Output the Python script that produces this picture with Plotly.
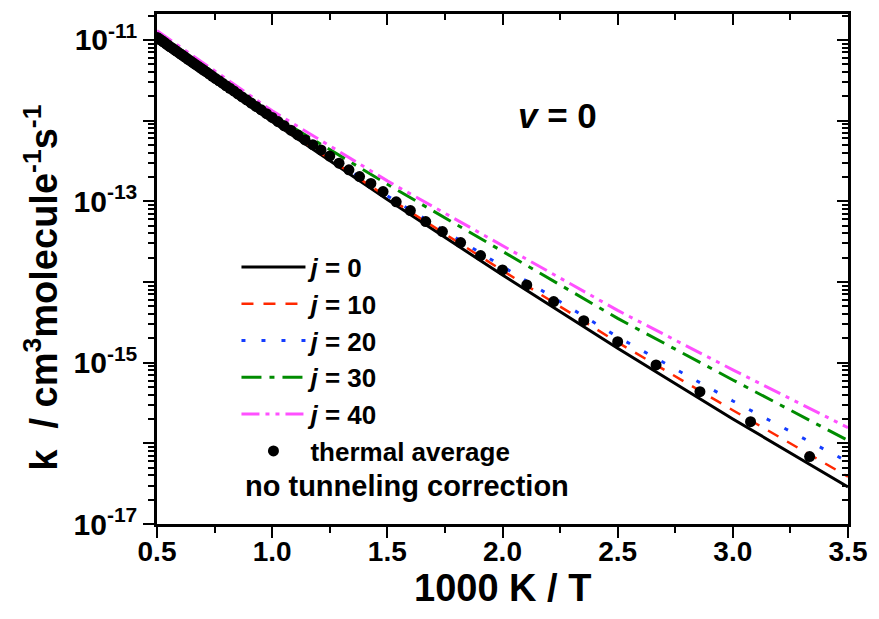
import plotly.graph_objects as go

# ---- data ----
x_grid = [0.5, 1.0, 1.5, 2.0, 2.5, 3.0, 3.5]          # 1000 K / T
logk_j0  = [-11.025, -12.017, -12.980, -13.915, -14.821, -15.698, -16.540]
logk_j10 = [-10.990, -12.004, -12.950, -13.860, -14.750, -15.590, -16.413]
logk_j20 = [-10.966, -11.970, -12.934, -13.810, -14.682, -15.475, -16.230]
logk_j30 = [-10.940, -11.930, -12.790, -13.620, -14.452, -15.215, -15.965]
logk_j40 = [-10.888, -11.880, -12.748, -13.550, -14.353, -15.090, -15.806]

T_thermal = [300, 325, 350, 375, 400, 425, 450, 475, 500, 525, 550, 575, 600, 625,
             650, 675, 700, 725, 750, 775, 800, 825, 850, 875, 900, 925, 950, 975,
             1000, 1025, 1050, 1075, 1100, 1125, 1150, 1175, 1200, 1225, 1250, 1275,
             1300, 1325, 1350, 1375, 1400, 1425, 1450, 1475, 1500, 1525, 1550, 1575,
             1600, 1625, 1650, 1675, 1700, 1725, 1750, 1775, 1800, 1825, 1850, 1875,
             1900, 1925, 1950, 1975, 2000]
logk_thermal = [-16.165, -15.732, -15.360, -15.029, -14.740, -14.480, -14.244, -14.037,
                -13.851, -13.674, -13.513, -13.376, -13.252, -13.116, -13.008, -12.880,
                -12.780, -12.695, -12.611, -12.528, -12.440, -12.364, -12.300, -12.240,
                -12.178, -12.120, -12.066, -12.013, -11.962, -11.915, -11.868, -11.825,
                -11.784, -11.744, -11.707, -11.670, -11.634, -11.600, -11.569, -11.537,
                -11.507, -11.480, -11.452, -11.424, -11.398, -11.374, -11.350, -11.327,
                -11.305, -11.283, -11.261, -11.241, -11.221, -11.201, -11.183, -11.165,
                -11.147, -11.131, -11.113, -11.097, -11.083, -11.067, -11.052, -11.036,
                -11.022, -11.008, -10.996, -10.982, -10.970]

x_ticks = [0.5, 1.0, 1.5, 2.0, 2.5, 3.0, 3.5]
x_ticklabels = ["0.5", "1.0", "1.5", "2.0", "2.5", "3.0", "3.5"]
y_ticks = [1e-17, 1e-16, 1e-15, 1e-14, 1e-13, 1e-12, 1e-11]
y_ticklabels = ["10<sup>-17</sup>", "", "10<sup>-15</sup>", "", "10<sup>-13</sup>", "", "10<sup>-11</sup>"]

FONT = "Liberation Sans, Arial, sans-serif"

series = [
    ("<i>j</i> = 0", logk_j0, "black", "solid", 3),
    ("<i>j</i> = 10", logk_j10, "rgb(255,40,0)", "12px,10px", 2.5),
    ("<i>j</i> = 20", logk_j20, "rgb(20,60,255)", "4px,16px", 3),
    ("<i>j</i> = 30", logk_j30, "rgb(0,140,0)", "20px,8px,5px,8px", 3),
    ("<i>j</i> = 40", logk_j40, "rgb(255,80,255)", "18px,6px,4px,6px,4px,6px", 3),
]

fig = go.Figure()
for i, (name, ys, col, dash, w) in enumerate(series):
    fig.add_trace(go.Scatter(
        x=x_grid, y=[10 ** v for v in ys], mode="lines", name=name,
        line=dict(color=col, dash=dash, width=w),
        legendgroup=f"g{i}"))

fig.add_trace(go.Scatter(
    x=[1000.0 / t for t in T_thermal], y=[10 ** v for v in logk_thermal],
    mode="markers", name="thermal average",
    marker=dict(color="black", size=11, symbol="circle"),
    legendgroup="g5"))

# invisible trace for mirrored axes
fig.add_trace(go.Scatter(x=[0.5], y=[1e-17], xaxis="x2", yaxis="y2", mode="markers",
                         marker=dict(opacity=0), showlegend=False, hoverinfo="skip"))

axis_common = dict(showline=True, linecolor="black", linewidth=2.5, showgrid=False,
                   zeroline=False, tickcolor="black", tickwidth=2)

fig.update_layout(
    width=879, height=619,
    margin=dict(l=157, r=26, t=14, b=95),
    plot_bgcolor="white", paper_bgcolor="white",
    font=dict(family=FONT, size=22, color="black", weight="bold"),
    xaxis=dict(range=[0.5, 3.5], tickmode="array", tickvals=x_ticks, ticktext=x_ticklabels,
               ticks="outside", ticklen=11, ticklabelstandoff=-10,
               tickfont=dict(size=28, family=FONT, weight="bold"),
               minor=dict(ticks="outside", ticklen=6, tickwidth=2, tick0=0.5, dtick=0.25,
                          tickcolor="black", showgrid=False),
               **axis_common),
    yaxis=dict(type="log", range=[-17, -10.68], tickmode="array", tickvals=y_ticks,
               ticktext=y_ticklabels, ticks="outside", ticklen=11,
               tickfont=dict(size=30, family=FONT, weight="bold"),
               minor=dict(ticks="outside", ticklen=6, tickwidth=2, dtick="D1",
                          tickcolor="black", showgrid=False),
               **axis_common),
    xaxis2=dict(overlaying="x", side="top", anchor="y", range=[0.5, 3.5], tickmode="array",
                tickvals=x_ticks, showticklabels=False, ticks="inside", ticklen=11,
                minor=dict(ticks="inside", ticklen=6, tickwidth=2, tick0=0.5, dtick=0.25,
                           tickcolor="black", showgrid=False),
                **axis_common),
    yaxis2=dict(overlaying="y", side="right", anchor="x", type="log", range=[-17, -10.68],
                tickmode="array", tickvals=y_ticks, showticklabels=False, ticks="inside",
                ticklen=11,
                minor=dict(ticks="inside", ticklen=6, tickwidth=2, dtick="D1",
                           tickcolor="black", showgrid=False),
                **axis_common),
    legend=dict(x=0.115, y=0.55, xanchor="left", yanchor="top", bgcolor="rgba(0,0,0,0)",
                traceorder="grouped", tracegroupgap=0, itemwidth=64,
                font=dict(size=26, family=FONT, weight="bold")),
    showlegend=True,
    annotations=[
        dict(text="<i>v</i> = 0", x=0.58, y=0.80, xref="paper", yref="paper",
             xanchor="center", yanchor="middle",
             showarrow=False, font=dict(size=35, family=FONT, weight="bold")),
        dict(text="no tunneling correction", x=0.124, y=0.0745, xref="paper", yref="paper",
             xanchor="left", yanchor="middle", showarrow=False,
             font=dict(size=29, family=FONT, weight="bold")),
        dict(text="1000 K / T", x=0.5, y=-0.125, xref="paper", yref="paper",
             xanchor="center", yanchor="middle", showarrow=False,
             font=dict(size=38, family=FONT, weight="bold")),
        dict(text="k  / cm<sup>3</sup>molecule<sup>-1</sup>s<sup>-1</sup>",
             x=-0.168, y=0.463, xref="paper", yref="paper", textangle=-90,
             xanchor="center", yanchor="middle", showarrow=False,
             font=dict(size=38, family=FONT, weight="bold")),
    ],
)

fig.write_html("out.html")
